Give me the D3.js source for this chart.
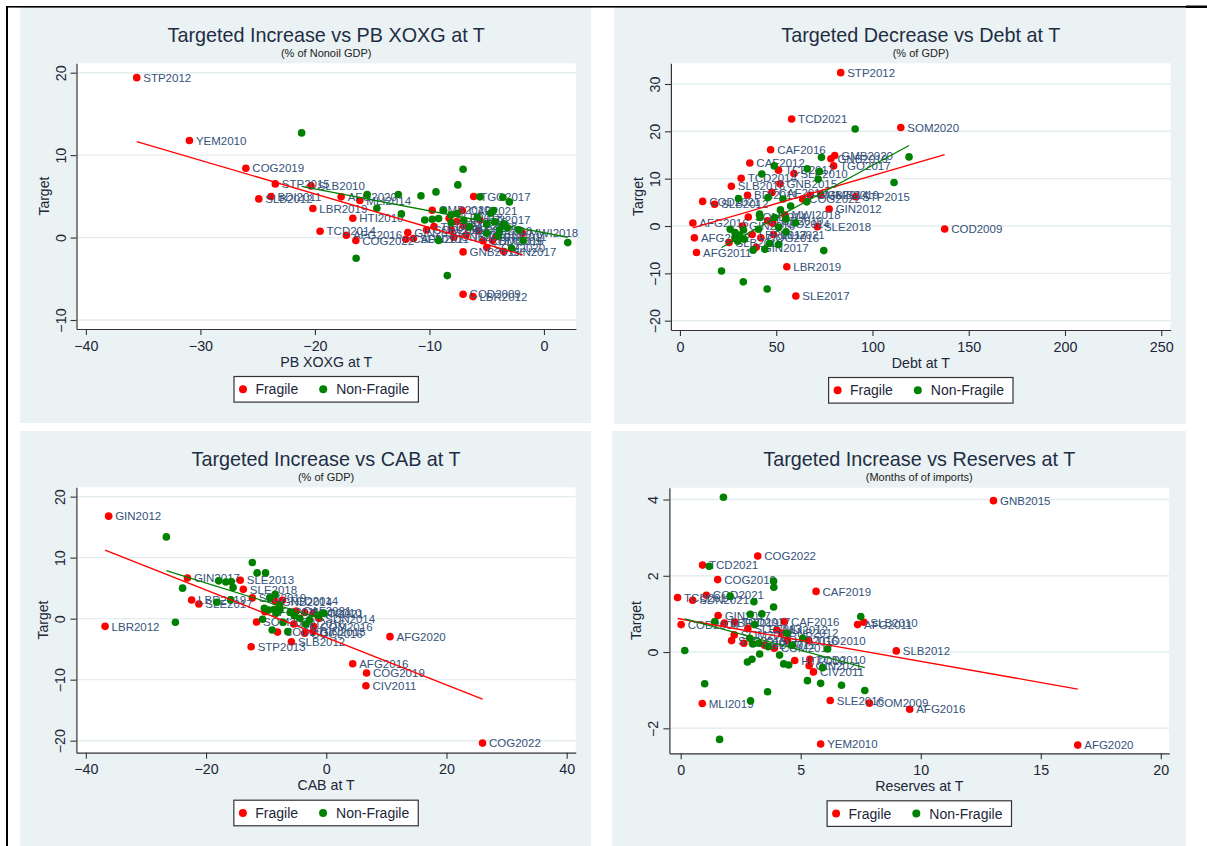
<!DOCTYPE html>
<html><head><meta charset="utf-8">
<script src="https://cdn.jsdelivr.net/npm/d3@7"></script>
<style>
body{margin:0;background:#fff;}
svg{display:block;}
text{font-family:"Liberation Sans",Arial,sans-serif;}
</style>
</head><body>
<svg id="c" width="1207" height="846"></svg>
<script>
// ---------------- DATA ----------------
const titles = ["Targeted Increase vs PB XOXG at T","Targeted Decrease vs Debt at T","Targeted Increase vs CAB at T","Targeted Increase vs Reserves at T"];
const subtitles = ["(% of Nonoil GDP)","(% of GDP)","(% of GDP)","(Months of of imports)"];
const xTitles = ["PB XOXG at T","Debt at T","CAB at T","Reserves at T"];
const yTitle = "Target";
const legendLabels = ["Fragile","Non-Fragile"];

const p1XTicks = [-40,-30,-20,-10,0];
const p1YTicks = [-10,0,10,20];
const p2XTicks = [0,50,100,150,200,250];
const p2YTicks = [-20,-10,0,10,20,30];
const p3XTicks = [-40,-20,0,20,40];
const p3YTicks = [-20,-10,0,10,20];
const p4XTicks = [0,5,10,15,20];
const p4YTicks = [-2,0,2,4];

const p1Fragile = [[-35.56,19.4,"STP2012"],[-30.96,11.77,"YEM2010"],[-26.03,8.41,"COG2019"],[-23.46,6.51,"STP2015"],[-20.34,6.27,"SLB2010"],[-23.83,4.98,"BDI2011"],[-24.9,4.69,"SLB2012"],[-17.71,4.94,"AFG2020"],[-16.08,4.49,"MLI2014"],[-20.18,3.52,"LBR2019"],[-16.69,2.35,"HTI2010"],[-19.55,0.77,"TCD2014"],[-17.25,0.28,"AFG2016"],[-16.43,-0.36,"COG2022"],[-11.89,0.61,"GIN2016"],[-12.06,-0.2,"CAF2010"],[-11.4,-0.12,"SDN2011"],[-9.76,3.32,"GMB2020"],[-10.25,0.93,"COD2021"],[-9.6,1.33,"TCD2017"],[-8.28,2.35,"SLE2013"],[-8.1,0.93,"LBR2017"],[-7.88,0.04,"GNB2019"],[-7.62,1.94,"MLI2019"],[-7.13,3.28,"CAF2021"],[-6.8,0.32,"TGO2010"],[-6.14,4.98,"TGO2017"],[-5.72,0.81,"SLE2016"],[-5.32,-0.4,"COM2009"],[-4.99,-1.21,"SOM2020"],[-4.17,0.12,"CIV2011"],[-3.51,-1.7,"GIN2017"],[-1.87,0.53,"MWI2018"],[-7.06,-1.74,"GNB2015"],[-7.06,-6.88,"COD2009"],[-6.2,-7.16,"LBR2012"],[-7.04,1.42,"SLE2018"],[-4.5,-0.36,"BDI2016"],[-5.6,2.14,"HTI2017"]];
const p1NonFragile = [[-21.16,12.7],[-15.44,5.22],[-12.72,5.22],[-10.74,5.06],[-9.43,5.54],[-7.52,6.39],[-7.06,8.29],[-5.59,4.94],[-3.59,4.89],[-3.02,4.33],[-14.59,3.56],[-12.45,2.87],[-16.4,-2.51],[-8.44,-4.61],[2.08,-0.61],[-2.2,0.93],[-1.81,-0.36],[-2.83,-1.29],[-10.41,2.14],[-9.76,2.22],[-9.2,2.3],[-9.2,-0.36],[-8.77,3.28],[-8.11,2.75],[-7.6,2.9],[-7.0,2.1],[-5.82,2.47],[-5.0,1.66],[-4.66,2.95],[-4.4,3.28],[-4.3,1.9],[-3.88,0.93],[-3.5,1.66],[-3.2,1.2],[-5.0,0.53],[-8.1,1.8],[-6.5,1.3],[-4.0,0.2]];
const p1FitFragile = [[-35.56,11.65],[-1.87,-2.1]];
const p1FitNonFragile = [[-21.16,6.2],[2.08,0.04]];

const p2Fragile = [[83.5,32.4,"STP2012"],[58.0,22.6,"TCD2021"],[114.7,20.8,"SOM2020"],[137.5,-0.63,"COD2009"],[47.1,16.1,"CAF2016"],[80.4,14.9,"GMB2020"],[78.4,14.2,"GNB2019"],[79.8,12.7,"TGO2017"],[36.3,13.3,"CAF2012"],[51.2,11.8,"TCD2017"],[59.2,11.1,"SLE2010"],[31.8,10.1,"TCD2014"],[52.0,8.9,"GNB2015"],[26.7,8.4,"SLB2016"],[47.8,7.1,"CAF2019"],[35.1,6.5,"BDI2011"],[63.7,5.7,"COG2022"],[67.6,6.5,"GMB2014"],[73.1,6.5,"GMB2019"],[91.2,6.2,"STP2015"],[11.8,5.2,"COD2021"],[18.0,4.6,"SLB2012"],[77.5,3.6,"GIN2012"],[54.5,2.3,"MWI2018"],[35.5,1.9,"SOM2014"],[6.7,0.63,"AFG2016"],[71.4,-0.14,"SLE2018"],[32.5,0,"GIN2016"],[45.5,1.1,"TCD2010"],[48.2,0.56,"TGO2014"],[7.5,-2.5,"AFG2012"],[8.6,-5.6,"AFG2011"],[25.5,-3.5,"SLB2019"],[37.5,-1.8,"LBR2017"],[42,-2.5,"COG2016"],[39.6,-4.5,"GIN2017"],[48.6,-1.8,"MLI2021"],[55.5,-8.6,"LBR2019"],[60.2,-14.8,"SLE2017"]];
const p2NonFragile = [[91.0,20.5],[119.0,14.6],[111.2,9.2],[73.5,14.5],[49.0,12.7],[66.1,12.1],[72.5,11.5],[42.5,11.0],[71.8,9.9],[30.4,5.8],[45.7,6.0],[53.5,5.7],[65.9,5.1],[57.5,4.2],[52.2,3.4],[41.4,2.5],[41.6,1.8],[49.2,1.8],[55.1,1.5],[60.0,0.7],[26.1,-0.7],[28.6,-1.4],[33.0,-0.85],[40.8,-0.7],[51.2,-0.3],[55.1,-1.2],[28.6,-2.5],[31.0,-1.9],[46.5,-3.7],[51.2,-3.9],[44.1,-4.9],[38.0,-5.1],[74.7,-5.2],[21.6,-9.5],[32.9,-11.8],[45.3,-13.3],[33.5,-2.8],[30,-3.2]];
const p2FitFragile = [[6.7,-0.4],[137.5,15.1]];
const p2FitNonFragile = [[21.6,-4.55],[119.0,17.0]];

const p3Fragile = [[-36.2,16.8,"GIN2012"],[-36.8,-1.26,"LBR2012"],[-23.1,6.67,"GIN2017"],[-22.4,3.06,"LBR2019"],[-21.2,2.4,"SLE2017"],[-14.3,6.3,"SLE2013"],[-13.8,4.8,"SLE2018"],[-12.3,3.4,"SLB2019"],[-11.6,-0.55,"SOM2020"],[-12.5,-4.6,"STP2013"],[-8.1,-2.2,"COD2017"],[-7.3,3.0,"TCD2014"],[-8.5,2.8,"GNB2014"],[-5.0,1.26,"CAF2021"],[-3.6,1.0,"TGO2010"],[-5.4,-0.87,"MLI2016"],[-3.6,-2.4,"COG2016"],[-2.2,0.87,"HTI2021"],[-1.25,0.05,"SDN2014"],[-2.1,-1.3,"COM2016"],[-2.2,-2.1,"GIN2015"],[-10.2,1.15,"AFG2011"],[-5.8,-3.8,"SLB2012"],[10.6,-2.95,"AFG2020"],[4.4,-7.4,"AFG2016"],[6.7,-8.9,"COG2019"],[6.6,-11.0,"CIV2011"],[26.0,-20.4,"COG2022"]];
const p3NonFragile = [[-26.6,13.4],[-12.3,9.2],[-11.5,7.5],[-10.1,7.5],[-17.9,6.2],[-16.7,6.0],[-15.8,6.1],[-15.5,5.1],[-23.9,5.0],[-18.2,2.7],[-15.9,3.1],[-25.1,-0.6],[-9.4,3.4],[-8.5,4.0],[-10.3,1.7],[-9.6,1.4],[-7.8,2.2],[-7.7,1.4],[-8.7,1.5],[-10.6,-0.1],[-9.0,-1.86],[-6.4,-2.1],[-7.2,-0.6],[-5.3,0.5],[-4.4,0.05],[-2.8,-0.2],[-3.4,-0.9],[-0.4,0.87],[-1.4,0.6],[-6.0,1.0],[-8.3,0.9]];
const p3FitFragile = [[-36.8,11.23],[26.0,-13.2]];
const p3FitNonFragile = [[-26.6,7.87],[-0.4,-0.17]];

const p4Fragile = [[13.03,3.97,"GNB2015"],[3.21,2.52,"COG2022"],[0.91,2.28,"TCD2021"],[1.54,1.9,"COG2019"],[5.64,1.59,"CAF2019"],[-0.13,1.43,"TCD2014"],[1.07,1.49,"COD2021"],[0.5,1.36,"SDN2021"],[1.56,0.96,"GIN2017"],[0.02,0.72,"COD2009"],[1.82,0.76,"LBR2019"],[2.25,0.79,"TCD2017"],[4.32,0.8,"CAF2016"],[7.63,0.78,"SLB2010"],[7.37,0.72,"AFG2011"],[2.8,0.62,"SLE2013"],[4.0,0.58,"MLI2012"],[4.2,0.5,"GNB2012"],[4.45,0.3,"HTI2016"],[2.63,0.23,"SLE2017"],[2.12,0.3,"STP2015"],[2.23,0.45,"SOM2014"],[3.5,0.18,"BDI2011"],[3.9,0.1,"COM2017"],[5.33,0.3,"TGO2010"],[8.98,0.03,"SLB2012"],[4.75,-0.22,"HTI2010"],[5.38,-0.19,"TCD2010"],[5.35,-0.36,"GIN2021"],[5.53,-0.52,"CIV2011"],[6.23,-1.27,"SLE2016"],[7.86,-1.34,"COM2009"],[9.54,-1.5,"AFG2016"],[0.9,-1.35,"MLI2019"],[5.83,-2.41,"YEM2010"],[16.54,-2.44,"AFG2020"]];
const p4NonFragile = [[1.78,4.06],[1.19,2.25],[3.87,1.86],[3.88,1.7],[2.06,1.47],[3.05,1.32],[3.87,1.18],[3.38,1.0],[2.9,0.99],[1.42,0.8],[3.08,0.72],[7.5,0.93],[0.17,0.04],[4.42,0.49],[5.08,0.36],[4.65,0.18],[2.88,0.36],[3.0,0.21],[3.27,0.23],[3.65,0.14],[3.29,-0.05],[6.12,0.08],[4.12,-0.08],[2.78,-0.26],[2.97,-0.19],[4.29,-0.31],[4.5,-0.34],[5.91,-0.41],[5.28,-0.75],[5.83,-0.82],[6.7,-0.87],[7.67,-1.01],[1.0,-0.83],[3.62,-1.04],[2.91,-1.28],[1.62,-2.29]];
const p4FitFragile = [[-0.13,0.88],[16.54,-0.97]];
const p4FitNonFragile = [[0.17,0.87],[7.67,-0.41]];

// ---------------- LAYOUT ----------------
const panels = [
  {bg:[20,7,571,416], plot:{l:76.5,r:575.9,t:63.3,b:329}, xDom:[-40.82,2.79], yDom:[-11.09,21.14],
   xTicks:p1XTicks, yTicks:p1YTicks, fr:p1Fragile, nf:p1NonFragile, fitF:p1FitFragile, fitN:p1FitNonFragile},
  {bg:[614,7,572,417], plot:{l:670.9,r:1170.7,t:63.3,b:330}, xDom:[-4.7,254.9], yDom:[-21.97,34.37],
   xTicks:p2XTicks, yTicks:p2YTicks, fr:p2Fragile, nf:p2NonFragile, fitF:p2FitFragile, fitN:p2FitNonFragile},
  {bg:[20,431,571,415], plot:{l:76.4,r:575.7,t:487.3,b:752.7}, xDom:[-41.57,41.5], yDom:[-21.97,21.53],
   xTicks:p3XTicks, yTicks:p3YTicks, fr:p3Fragile, nf:p3NonFragile, fitF:p3FitFragile, fitN:p3FitNonFragile},
  {bg:[612,431,574,415], plot:{l:669.4,r:1169.2,t:487.7,b:753.3}, xDom:[-0.47,20.35], yDom:[-2.655,4.31],
   xTicks:p4XTicks, yTicks:p4YTicks, fr:p4Fragile, nf:p4NonFragile, fitF:p4FitFragile, fitN:p4FitNonFragile}
];

const BG = "#eaf2f3", GRID = "#e3ecee", RED = "#ff0000", GREEN = "#008000";
const TXT = "#1c2638", LBL = "#34527a";

const svg = d3.select("#c");
svg.append("rect").attr("width",1207).attr("height",846).attr("fill","#fff");

panels.forEach((p, i) => {
  const g = svg.append("g");
  const P = p.plot;
  const cx = (P.l + P.r) / 2;
  g.append("rect").attr("x",p.bg[0]).attr("y",p.bg[1]).attr("width",p.bg[2]).attr("height",p.bg[3]).attr("fill",BG);
  g.append("rect").attr("x",P.l).attr("y",P.t).attr("width",P.r-P.l).attr("height",P.b-P.t).attr("fill","#fff");

  const x = d3.scaleLinear().domain(p.xDom).range([P.l, P.r]);
  const y = d3.scaleLinear().domain(p.yDom).range([P.b, P.t]);

  // grid
  g.selectAll("line.grid").data(p.yTicks).join("line")
    .attr("x1",P.l).attr("x2",P.r).attr("y1",d=>y(d)).attr("y2",d=>y(d))
    .attr("stroke",GRID).attr("stroke-width",1.4);

  // axes
  const ax = g.append("g").attr("transform",`translate(0,${P.b})`)
    .call(d3.axisBottom(x).tickValues(p.xTicks).tickSize(6).tickSizeOuter(0).tickPadding(5.5).tickFormat(d3.format("d")));
  const ay = g.append("g").attr("transform",`translate(${P.l},0)`)
    .call(d3.axisLeft(y).tickValues(p.yTicks).tickSize(6).tickSizeOuter(0).tickFormat(d3.format("d")));
  [ax, ay].forEach(a => {
    a.select(".domain").attr("stroke","#333").attr("stroke-width",1.2);
    a.selectAll(".tick line").attr("stroke","#333").attr("stroke-width",1.1);
    a.selectAll(".tick text").attr("fill",TXT).style("font-size","14.3px").style("font-family",'"Liberation Sans",Arial,sans-serif');
  });
  ay.selectAll(".tick text").attr("transform","rotate(-90)").attr("x",0).attr("y",-11).attr("dy",0).attr("text-anchor","middle");

  // titles
  g.append("text").attr("x",cx).attr("y",P.t-21.8).attr("text-anchor","middle").attr("fill","#1f2d44").style("font-size","19.8px").text(titles[i]);
  g.append("text").attr("x",cx).attr("y",P.t-6.3).attr("text-anchor","middle").attr("fill","#222").style("font-size","11px").text(subtitles[i]);
  g.append("text").attr("x",cx).attr("y",P.b+37.7).attr("text-anchor","middle").attr("fill",TXT).style("font-size","14.2px").text(xTitles[i]);
  g.append("text").attr("transform",`translate(${P.l-28},${(P.t+P.b)/2}) rotate(-90)`).attr("text-anchor","middle").attr("fill",TXT).style("font-size","14px").text(yTitle);

  // fragile markers + labels
  const fr = g.append("g");
  fr.selectAll("circle").data(p.fr).join("circle").attr("cx",d=>x(d[0])).attr("cy",d=>y(d[1])).attr("r",3.8).attr("fill",RED);
  fr.selectAll("text").data(p.fr).join("text").attr("x",d=>x(d[0])+6.5).attr("y",d=>y(d[1])+4.2)
    .attr("fill",LBL).style("font-size","11.5px").text(d=>d[2]);
  // non-fragile markers
  g.append("g").selectAll("circle").data(p.nf).join("circle").attr("cx",d=>x(d[0])).attr("cy",d=>y(d[1])).attr("r",3.8).attr("fill",GREEN);

  // fit lines
  const line = d3.line().x(d=>x(d[0])).y(d=>y(d[1]));
  g.append("path").attr("d",line(p.fitF)).attr("stroke",RED).attr("stroke-width",1.3).attr("fill","none");
  g.append("path").attr("d",line(p.fitN)).attr("stroke",GREEN).attr("stroke-width",1.3).attr("fill","none");

  // legend
  const lw = 184.4, lh = 25.6, lx = cx - lw/2, ly = P.b + 47.5;
  g.append("rect").attr("x",lx).attr("y",ly).attr("width",lw).attr("height",lh).attr("fill","#fff").attr("stroke","#333").attr("stroke-width",1.2);
  const ly0 = ly + lh/2;
  g.append("circle").attr("cx",lx+9).attr("cy",ly0).attr("r",4).attr("fill",RED);
  g.append("text").attr("x",lx+21.4).attr("y",ly0+5).attr("fill",TXT).style("font-size","14px").text(legendLabels[0]);
  g.append("circle").attr("cx",lx+89.2).attr("cy",ly0).attr("r",4).attr("fill",GREEN);
  g.append("text").attr("x",lx+102.2).attr("y",ly0+5).attr("fill",TXT).style("font-size","14px").text(legendLabels[1]);
});

// page frame lines
svg.append("rect").attr("x",6).attr("y",6).attr("width",1201).attr("height",1.6).attr("fill","#000");
svg.append("rect").attr("x",1186).attr("y",5.5).attr("width",21).attr("height",2.5).attr("fill","#000");
svg.append("rect").attr("x",6).attr("y",6).attr("width",2).attr("height",840).attr("fill","#000");
</script>
</body></html>
